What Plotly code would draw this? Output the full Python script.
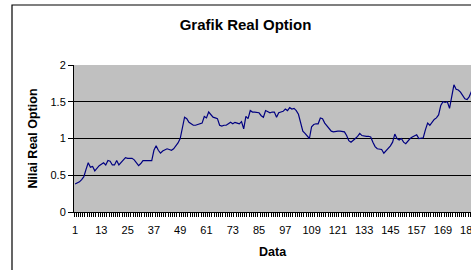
import plotly.graph_objects as go

# Data (category index -> Nilai Real Option)
data_index = list(range(1, 184))
real_option = [
    0.38, 0.39, 0.41, 0.44, 0.48, 0.58, 0.67, 0.61, 0.62, 0.56,
    0.60, 0.63, 0.65, 0.67, 0.64, 0.70, 0.69, 0.64, 0.64, 0.70,
    0.64, 0.67, 0.70, 0.74, 0.73, 0.73, 0.73, 0.71, 0.66, 0.63,
    0.66, 0.70, 0.70, 0.70, 0.69, 0.70, 0.84, 0.90, 0.84, 0.80,
    0.83, 0.85, 0.86, 0.85, 0.84, 0.86, 0.90, 0.94, 1.00, 1.16,
    1.29, 1.27, 1.22, 1.20, 1.18, 1.18, 1.19, 1.20, 1.21, 1.30,
    1.28, 1.36, 1.32, 1.29, 1.28, 1.27, 1.18, 1.17, 1.18, 1.18,
    1.20, 1.22, 1.20, 1.22, 1.21, 1.20, 1.23, 1.13, 1.30, 1.27,
    1.38, 1.36, 1.36, 1.36, 1.35, 1.31, 1.29, 1.38, 1.36, 1.35,
    1.36, 1.36, 1.29, 1.35, 1.36, 1.37, 1.40, 1.38, 1.42, 1.40,
    1.41, 1.38, 1.33, 1.22, 1.10, 1.07, 1.04, 1.00, 1.16, 1.19,
    1.20, 1.20, 1.28, 1.27, 1.21, 1.17, 1.13, 1.10, 1.09, 1.10,
    1.10, 1.10, 1.09, 1.09, 1.04, 0.97, 0.95, 0.97, 1.00, 1.03,
    1.07, 1.04, 1.03, 1.03, 1.03, 1.02, 0.95, 0.89, 0.86, 0.86,
    0.85, 0.80, 0.83, 0.86, 0.90, 0.95, 1.06, 1.00, 0.98, 1.00,
    0.95, 0.93, 0.97, 1.00, 1.02, 1.04, 1.05, 1.00, 1.00, 1.01,
    1.12, 1.21, 1.18, 1.22, 1.26, 1.28, 1.32, 1.45, 1.50, 1.49,
    1.50, 1.41, 1.55, 1.73, 1.67, 1.66, 1.63, 1.59, 1.54, 1.53,
    1.57, 1.64, 1.63,
]
x_tickvals = list(range(1, 182, 12))
x_ticktext = [str(v) for v in x_tickvals]
y_tickvals = [0, 0.5, 1, 1.5, 2]
y_ticktext = ["0", "0.5", "1", "1.5", "2"]

FONT = "Arial, 'Liberation Sans', sans-serif"
W, H = 471, 270

fig = go.Figure()
fig.add_trace(go.Scatter(
    x=data_index, y=real_option, mode="lines",
    line=dict(color="#000080", width=1.2),
    showlegend=False, hoverinfo="skip",
))

fig.update_layout(
    width=W, height=H,
    margin=dict(l=74, r=0, t=65, b=58),
    paper_bgcolor="white",
    plot_bgcolor="#C0C0C0",
    font=dict(family=FONT, size=11, color="black"),
    title=dict(
        text="<b>Grafik Real Option</b>",
        x=245.5 / W, xanchor="center", xref="container",
        y=1 - 25 / H, yanchor="middle", yref="container",
        font=dict(family=FONT, size=15, color="black"),
    ),
    xaxis=dict(
        range=[0.5, 181.8], automargin=False,
        tickmode="array", tickvals=x_tickvals, ticktext=x_ticktext,
        ticks="", showgrid=False, zeroline=False,
        showline=True, linecolor="black", linewidth=1,
        tickfont=dict(family=FONT, size=11, color="black"),
        ticklabelstandoff=8,
        ticklabeloverflow="allow",
        minor=dict(ticks="outside", tick0=0.5, dtick=1, ticklen=4,
                   tickcolor="black", tickwidth=1, showgrid=False),
    ),
    yaxis=dict(
        range=[0, 2], automargin=False,
        tickmode="array", tickvals=y_tickvals, ticktext=y_ticktext,
        ticks="outside", ticklen=5, tickcolor="black",
        showgrid=True, gridcolor="black", gridwidth=1,
        zeroline=False,
        showline=True, linecolor="black", linewidth=1,
        tickfont=dict(family=FONT, size=11, color="black"),
    ),
    annotations=[
        dict(text="<b>Nilai Real Option</b>", xref="paper", yref="paper",
             x=0, y=0.5, xshift=-42, xanchor="center", yanchor="middle",
             textangle=-90, showarrow=False,
             font=dict(family=FONT, size=12.5, color="black")),
        dict(text="<b>Data</b>", xref="paper", yref="paper",
             x=0.5, y=0, yshift=-40, xanchor="center", yanchor="middle",
             showarrow=False,
             font=dict(family=FONT, size=12.5, color="black")),
    ],
    shapes=[
        dict(type="rect", xref="paper", yref="paper",
             x0=(12 - 74) / 397, x1=1.3, y0=-1.0, y1=(212 - 5) / 147,
             line=dict(color="black", width=1.2), fillcolor="rgba(0,0,0,0)",
             layer="above"),
    ],
)

fig.write_html(
    "out.html",
    config={"displayModeBar": False, "staticPlot": True},
    post_script="document.body.style.margin='0';"
                "document.body.style.overflow='hidden';",
)
